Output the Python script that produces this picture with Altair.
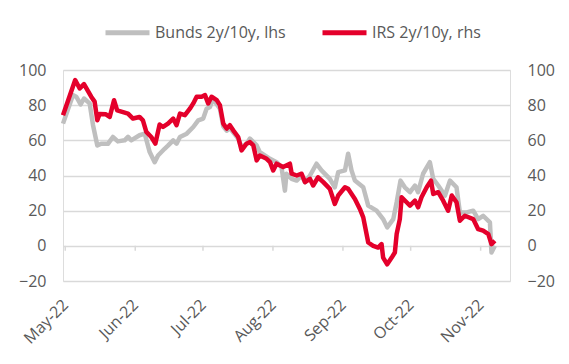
import altair as alt
import pandas as pd

# Day offsets from 2022-05-01 and values
bunds_days = [-1.0, 3.4, 4.9, 6.8, 8.3, 10.8, 12.3, 14.2, 15.9, 18.9, 21.1, 23.3, 26.3, 27.8, 29.2,
              32.9, 35.2, 37.4, 39.6, 41.1, 44.0, 45.5, 47.8, 49.3, 50.8, 53.8, 56.7, 58.9, 61.1,
              62.6, 64.1, 65.5, 67.1, 68.5, 70.0, 71.5, 72.9, 74.4, 76.6, 78.1, 80.3, 81.8, 84.8,
              86.2, 90.7, 93.6, 95.8, 97.3, 98.0, 100.3, 102.5, 104.7, 106.2, 108.4, 111.3, 113.5,
              117.2, 119.4, 120.9, 123.9, 125.3, 126.8, 128.3, 132.0, 134.2, 137.9, 140.8, 142.6,
              145.3, 146.8, 148.5, 150.4, 152.7, 154.9, 156.3, 158.5, 161.5, 163.0, 165.2, 168.2,
              170.4, 173.3, 174.8, 177.8, 180.7, 182.9, 185.1, 188.1, 188.8, 190.3]
bunds_vals = [69.5, 85.7, 84.8, 80.4, 83.8, 81, 68.6, 57.1, 58.1, 58, 61.9, 59.4, 60, 62, 60,
              62.9, 63.8, 53.3, 47.6, 51.4, 55.2, 57, 60, 58.1, 61.9, 63.8, 67.6, 71.4, 72.4,
              78, 79, 83.8, 80.5, 78, 68, 65.5, 67, 64.5, 61, 56, 58, 61, 57.1,
              53.3, 49.5, 47.6, 44.8, 31.4, 41, 38.1, 37.1, 40, 36.2, 40, 46.7, 42.9,
              38.1, 33.3, 41.9, 42.9, 52.4, 42.9, 37.1, 33.3, 22.9, 20, 15.2, 10.5,
              15.2, 24.8, 37.1, 33.3, 30.5, 34.3, 30.5, 41, 47.6, 38.1, 34.3, 28.6,
              37.1, 33.3, 19, 19, 20, 15.2, 17.1, 13.3, -3.8, 0]

irs_days = [-1.0, 4.4, 6.4, 8.3, 11.5, 13.0, 14.2, 15.2, 18.0, 19.7, 21.6, 23.0, 25.6, 27.8, 30.0,
            32.9, 34.4, 35.9, 38.1, 39.9, 41.8, 43.3, 45.5, 47.8, 49.3, 50.8, 53.0, 55.2, 56.7,
            58.2, 60.4, 61.9, 63.3, 64.8, 67.1, 68.5, 70.0, 71.5, 72.9, 74.4, 76.6, 78.1, 80.3,
            81.8, 83.3, 84.8, 86.2, 89.2, 90.7, 92.1, 93.6, 96.5, 99.5, 100.3, 102.5, 104.7,
            106.2, 108.4, 109.8, 112.0, 114.3, 117.2, 119.4, 120.9, 123.9, 125.3, 128.3, 130.5,
            132.0, 134.2, 136.4, 138.6, 140.1, 140.8, 142.6, 144.6, 146.0, 146.8, 148.2, 149.0,
            151.2, 152.7, 154.9, 156.3, 157.8, 160.1, 162.0, 163.0, 165.2, 167.4, 169.6, 171.2,
            173.3, 174.8, 177.0, 180.7, 182.9, 185.1, 187.4, 188.8, 190.3]
irs_vals = [74.3, 94.3, 89.5, 92, 84.8, 82, 71.4, 75, 74.8, 73.3, 82.8, 77, 76, 75.2, 72.4,
            73.3, 71.4, 64.8, 61.9, 58.1, 69, 67.6, 69.5, 72.4, 68.6, 75.2, 74.3, 78, 81,
            84.8, 84.8, 85.7, 81, 84.8, 82.9, 80, 69.5, 66.7, 68.6, 65.7, 61.9, 54.3, 58.1,
            59, 57.1, 48.6, 51.4, 49.5, 47.6, 42.9, 46.7, 44.8, 46.7, 41, 40, 41,
            36.2, 38.1, 34.3, 39, 36.2, 32.4, 23.8, 28.6, 33.3, 32.4, 26.7, 21,
            16.2, 1.9, 0, -1, 1, -6.7, -10.5, -6.7, -3.8, 6.7, 15.2, 27.6,
            24.8, 22.9, 25.7, 21.9, 27.6, 33.3, 37.1, 29.5, 30.5, 25.7, 20, 28.6,
            24.8, 14.3, 17.1, 15.2, 9.5, 8.6, 6.7, 1, 2.9]

series_names = ["Bunds 2y/10y, lhs", "IRS 2y/10y, rhs"]
series_colors = ["#BFBFBF", "#E4002B"]
month_ticks = ["2022-05-01", "2022-06-01", "2022-07-01", "2022-08-01",
               "2022-09-01", "2022-10-01", "2022-11-01"]
y_ticks = [-20, 0, 20, 40, 60, 80, 100]

base = pd.Timestamp("2022-05-01")
df = pd.concat([
    pd.DataFrame({"date": base + pd.to_timedelta(bunds_days, unit="D"),
                  "value": bunds_vals, "series": series_names[0]}),
    pd.DataFrame({"date": base + pd.to_timedelta(irs_days, unit="D"),
                  "value": irs_vals, "series": series_names[1]}),
])
ticks_df = pd.DataFrame({"date": pd.to_datetime(month_ticks), "value": 0, "y1": -2.8})

FONT = "Open Sans"
LBL = "#595959"

xscale = alt.Scale(domain=["2022-04-30", "2022-11-14"])
xaxis = alt.Axis(values=[pd.Timestamp(m).isoformat() for m in month_ticks],
                 format="%b-%y", labelAngle=-45, labelAlign="right",
                 labelBaseline="middle", labelPadding=21, grid=False,
                 domain=False, ticks=False, labelFontSize=16, labelColor=LBL,
                 labelFont=FONT, labelOverlap=False, title=None)
color = alt.Color("series:N",
                  scale=alt.Scale(domain=series_names, range=series_colors),
                  legend=alt.Legend(orient="none", legendX=40, legendY=-62,
                                    direction="horizontal", title=None,
                                    symbolType="stroke", symbolStrokeWidth=5,
                                    symbolSize=1936, labelFontSize=16,
                                    labelFont=FONT, labelColor=LBL,
                                    labelOffset=3, columnPadding=26))

yscale = alt.Scale(domain=[-20, 100], nice=False, zero=False)
left_axis = alt.Axis(values=y_ticks, orient="left", domain=False, ticks=False,
                     grid=True, gridColor="#D9D9D9", gridWidth=1.5,
                     labelOverlap=False, labelPadding=17, labelFontSize=16,
                     labelColor=LBL, labelFont=FONT, title=None)

left_line = alt.Chart(df).transform_filter(
    alt.datum.series == series_names[0]
).mark_line(strokeWidth=4.5, strokeJoin="round").encode(
    x=alt.X("date:T", scale=xscale, axis=xaxis),
    y=alt.Y("value:Q", scale=yscale, axis=left_axis),
    color=color,
)
tick_marks = alt.Chart(ticks_df).mark_rule(color="#D9D9D9", strokeWidth=1.5).encode(
    x=alt.X("date:T", scale=xscale, axis=xaxis),
    y=alt.Y("value:Q", scale=yscale, axis=left_axis),
    y2="y1:Q",
)
left = alt.layer(left_line, tick_marks)

right = alt.Chart(df).transform_filter(
    alt.datum.series == series_names[1]
).mark_line(strokeWidth=4.5, strokeJoin="round").encode(
    x=alt.X("date:T", scale=xscale, axis=xaxis),
    y=alt.Y("value:Q", scale=yscale,
            axis=alt.Axis(values=y_ticks, orient="right", domain=False, ticks=False,
                          grid=False, labelOverlap=False, labelPadding=17,
                          labelFontSize=16, labelColor=LBL, labelFont=FONT,
                          title=None)),
    color=color,
)

chart = alt.layer(left, right).resolve_scale(y="independent").properties(
    width=447, height=211,
    autosize=alt.AutoSizeParams(type="none"),
    padding={"left": 55, "top": 62, "right": 51, "bottom": 75},
).configure_view(stroke=None).configure(font=FONT)

chart.save("out.html", embed_options={"renderer": "svg", "actions": False})
